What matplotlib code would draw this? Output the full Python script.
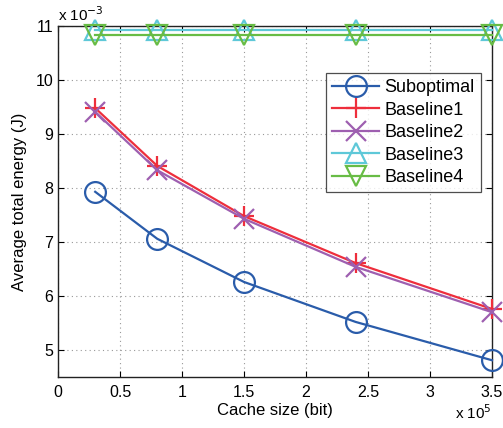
import matplotlib
matplotlib.use("Agg")
import matplotlib.pyplot as plt
import numpy as np

plt.rcParams['font.family'] = ['Liberation Sans', 'DejaVu Sans']

cache_size = [0.3e5, 0.8e5, 1.5e5, 2.4e5, 3.5e5]
suboptimal = [7.93e-3, 7.06e-3, 6.26e-3, 5.52e-3, 4.81e-3]
baseline1 = [9.48e-3, 8.41e-3, 7.48e-3, 6.61e-3, 5.76e-3]
baseline2 = [9.41e-3, 8.33e-3, 7.43e-3, 6.54e-3, 5.70e-3]
baseline3 = [10.93e-3, 10.93e-3, 10.93e-3, 10.93e-3, 10.93e-3]
baseline4 = [10.83e-3, 10.83e-3, 10.83e-3, 10.83e-3, 10.83e-3]

x_ticks = [0, 0.5, 1, 1.5, 2, 2.5, 3, 3.5]
y_ticks = [5, 6, 7, 8, 9, 10, 11]

series = [
    ("Suboptimal", suboptimal, "#2a5caa", "o"),
    ("Baseline1", baseline1, "#ee2e3c", "+"),
    ("Baseline2", baseline2, "#9e5fb0", "x"),
    ("Baseline3", baseline3, "#5ec8d8", "^"),
    ("Baseline4", baseline4, "#68bc45", "v"),
]

fig = plt.figure(figsize=(5.03, 4.28), dpi=100)
ax = fig.add_axes([58/503, 1-377/428, (492-58)/503, (377-26)/428])

xs = np.array(cache_size) / 1e5
for name, vals, color, mk in series:
    ys = np.array(vals) / 1e-3
    ms = 15 if mk in ("o", "^", "v") else 15
    ax.plot(xs, ys, color=color, lw=1.6, marker=mk, ms=ms, mfc='none',
            mec=color, mew=1.6, label=name, clip_on=False, zorder=3)

ax.set_xlim(0, 3.5)
ax.set_ylim(4.5, 11)
ax.set_xticks(x_ticks)
ax.set_xticklabels([f"{t:g}" for t in x_ticks])
ax.set_yticks(y_ticks)
ax.set_yticklabels([f"{t:g}" for t in y_ticks])
ax.tick_params(direction='in', labelsize=11.5, top=True, right=True, length=4, width=0.8)
ax.tick_params(axis='x', pad=6)
ax.grid(True, linestyle=(0, (1, 3)), color='#999999', lw=0.8)
for s in ax.spines.values():
    s.set_linewidth(1.0)
    s.set_color('#222222')

ax.set_xlabel("Cache size (bit)", fontsize=12, labelpad=2)
ax.set_ylabel("Average total energy (J)", fontsize=12, labelpad=6)

ax.text(0.0, 1.005, r"x 10$^{-3}$", transform=ax.transAxes, fontsize=11, ha='left', va='bottom')
ax.text(1.0, -0.075, r"x 10$^{5}$", transform=ax.transAxes, fontsize=11, ha='right', va='top')

leg = ax.legend(loc='upper right', bbox_to_anchor=(481/503, 1-73/428), bbox_transform=fig.transFigure,
                fontsize=13, frameon=True, fancybox=False, edgecolor='#222222',
                handlelength=2.6, borderpad=0.35, labelspacing=0.3, handletextpad=0.3,
                borderaxespad=0)
leg.get_frame().set_linewidth(0.9)

fig.savefig("out.png", dpi=100)
